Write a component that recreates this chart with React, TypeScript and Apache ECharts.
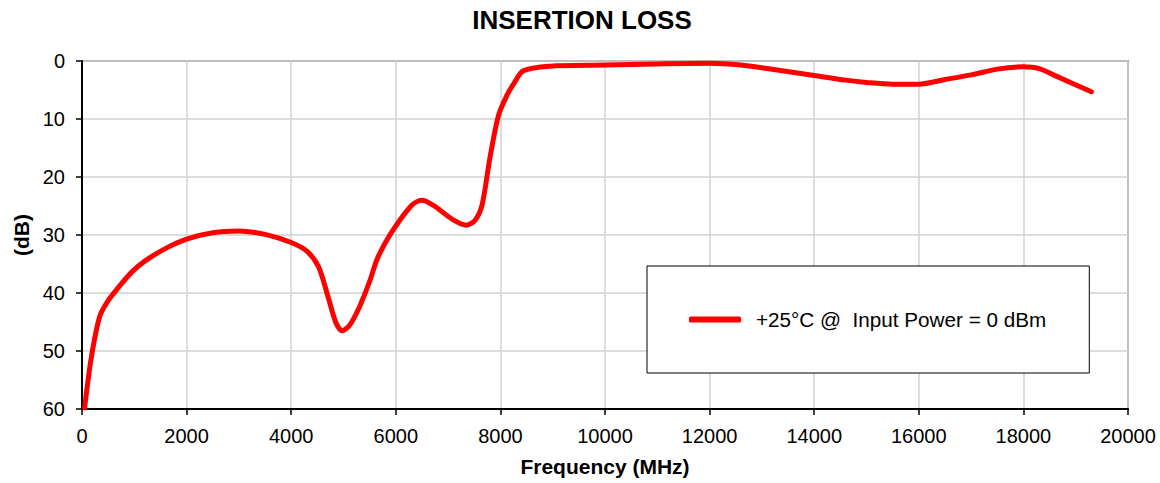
import React, { useEffect, useRef } from "react";
import * as echarts from "echarts";

const titleText = "INSERTION LOSS";
const xName = "Frequency (MHz)";
const yName = "(dB)";
const seriesName = "+25°C @  Input Power = 0 dBm";

const freqMHz = [
  50, 180, 340, 500, 700, 950, 1200, 1600, 2000, 2500, 3000, 3500, 4000, 4300,
  4520, 4700, 4850, 4970, 5120, 5300, 5500, 5650, 5900, 6300, 6500, 6720, 7100,
  7350, 7520, 7650, 7800, 7960, 8120, 8250, 8440, 8950, 10000, 11000, 12000,
  12600, 13100, 14000, 14600, 15000, 15500, 16000, 16500, 17000, 17500, 18000,
  18300, 18650, 19300,
];
const lossDb = [
  59.8, 51, 44, 41.3, 39, 36.4, 34.5, 32.3, 30.7, 29.6, 29.3, 29.9, 31.3, 32.8,
  35.4, 40.5, 45, 46.5, 45.5, 42.5, 38, 34, 29.8, 24.9, 24.0, 24.9, 27.4, 28.3,
  27.4, 24.8, 16.7, 9.5, 6.0, 4.0, 1.7, 0.9, 0.7, 0.5, 0.4, 0.7, 1.3, 2.5, 3.3,
  3.7, 4.0, 4.0, 3.2, 2.4, 1.4, 1.0, 1.3, 2.7, 5.3,
];

const xMin = 0;
const xMax = 20000;
const xStep = 2000;
const yMin = 0;
const yMax = 60;
const yStep = 10;

const FONT = "'Liberation Sans', Arial, sans-serif";

export default function App() {
  const ref = useRef<HTMLDivElement>(null);
  useEffect(() => {
    if (!ref.current) return;
    const chart = echarts.init(ref.current, undefined, { renderer: "svg" });
    const data = freqMHz.map((f, i) => [f, lossDb[i]]);
    chart.setOption({
      animation: false,
      backgroundColor: "#ffffff",
      textStyle: { fontFamily: FONT, color: "#000" },
      title: {
        text: titleText,
        left: 577,
        textAlign: "center",
        top: 2,
        textStyle: { fontFamily: FONT, fontSize: 26, fontWeight: "bold", color: "#000" },
      },
      grid: { left: 82, right: 32, top: 61, bottom: 74, containLabel: false, show: true, borderColor: "#888", borderWidth: 2 },
      legend: {
        show: true,
        left: 647,
        top: 266,
        orient: "horizontal",
        padding: [43, 43, 43, 42],
        borderColor: "#000",
        borderWidth: 1,
        backgroundColor: "#fff",
        icon: "roundRect",
        itemWidth: 52,
        itemHeight: 6,
        itemStyle: { color: "#ff0000" },
        textStyle: { fontFamily: FONT, fontSize: 20.7, color: "#000", padding: [0, 0, 0, 10] },
        data: [{ name: seriesName }],
      },
      xAxis: {
        type: "value",
        min: xMin,
        max: xMax,
        interval: xStep,
        name: xName,
        nameLocation: "middle",
        nameGap: 47,
        nameTextStyle: { fontFamily: FONT, fontSize: 21, fontWeight: "bold", color: "#000" },
        axisLine: { show: true, onZero: false, lineStyle: { color: "#000", width: 2 } },
        axisTick: { show: true, inside: false, length: 6, lineStyle: { color: "#000", width: 1.5 } },
        axisLabel: { fontFamily: FONT, fontSize: 20, color: "#000", margin: 17, formatter: (v: number) => String(v) },
        splitLine: { show: true, lineStyle: { color: "#d0d0d0", width: 1.5 } },
      },
      yAxis: {
        type: "value",
        inverse: true,
        min: yMin,
        max: yMax,
        interval: yStep,
        name: yName,
        nameLocation: "middle",
        nameGap: 48,
        nameTextStyle: { fontFamily: FONT, fontSize: 21, fontWeight: "bold", color: "#000" },
        axisLine: { show: true, onZero: false, lineStyle: { color: "#000", width: 2 } },
        axisTick: { show: true, inside: false, length: 6, lineStyle: { color: "#000", width: 1.5 } },
        axisLabel: { fontFamily: FONT, fontSize: 20, color: "#000", margin: 17, formatter: (v: number) => String(v) },
        splitLine: { show: true, lineStyle: { color: "#d0d0d0", width: 1.5 } },
      },
      series: [
        {
          name: seriesName,
          type: "line",
          data,
          symbol: "none",
          smooth: 0.3,
          lineStyle: { color: "#ff0000", width: 5, cap: "round", join: "round" },
          itemStyle: { color: "#ff0000" },
        },
      ],
    });
    return () => chart.dispose();
  }, []);
  return <div ref={ref} style={{ width: 1160, height: 483, position: "absolute", left: 0, top: 0 }} />;
}
